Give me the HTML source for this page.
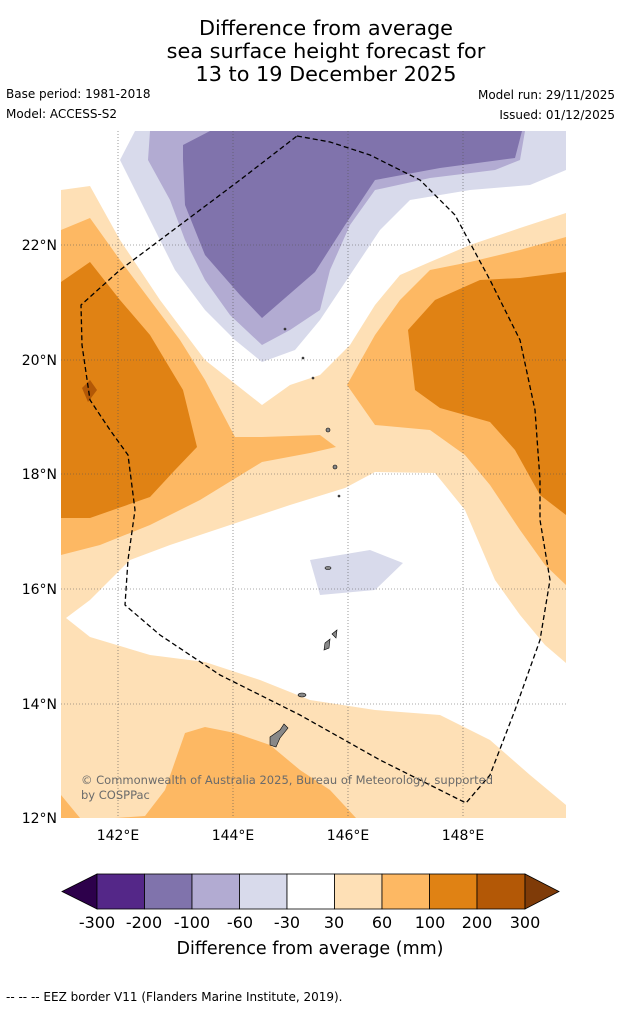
<!DOCTYPE html>
<html><head><meta charset="utf-8"><style>
body{margin:0;background:#fff;font-family:"Liberation Sans","DejaVu Sans",sans-serif;}
svg text{font-family:"DejaVu Sans","Liberation Sans",sans-serif;}
</style></head><body>
<svg width="621" height="1011" xmlns="http://www.w3.org/2000/svg">
<g font-size="20.8" text-anchor="middle" fill="#000">
<text x="326" y="35">Difference from average</text>
<text x="326" y="58">sea surface height forecast for</text>
<text x="326" y="81">13 to 19 December 2025</text>
</g>
<g font-size="12" fill="#000">
<text x="6" y="98">Base period: 1981-2018</text>
<text x="6" y="118">Model: ACCESS-S2</text>
<text x="615" y="99" text-anchor="end">Model run: 29/11/2025</text>
<text x="615" y="119" text-anchor="end">Issued: 01/12/2025</text>
</g>
<defs><clipPath id="mc"><rect x="61" y="131" width="505" height="687"/></clipPath></defs>
<g clip-path="url(#mc)">
<rect x="61" y="131" width="505" height="687" fill="#fee0b6"/>
<polygon fill="#ffffff" points="61,131 566,131 566,213 520,228 470,245 430,262 400,275 375,305 350,345 320,375 290,385 262,405 205,360 160,300 120,240 90,186 61,190"/>
<polygon fill="#ffffff" points="375,472 435,473 465,510 495,580 520,615 545,645 566,663 566,805 530,775 490,740 440,715 375,710 310,700 260,680 205,662 150,655 90,637 66,618 90,600 130,560 170,545 230,525 290,505 345,488"/>
<polygon fill="#fdb863" points="61,230 90,218 120,260 150,300 180,340 205,380 235,437 262,437 320,435 336,447 310,453 262,462 200,500 150,525 100,545 61,555"/>
<polygon fill="#e08214" points="61,282 90,262 120,300 150,335 183,390 197,447 175,470 150,497 90,518 61,518"/>
<polygon fill="#b35806" points="82,388 90,380 97,390 88,402"/>
<polygon fill="#fdb863" points="566,237 520,250 470,262 430,270 400,300 375,335 347,385 375,425 430,430 465,455 490,485 520,530 545,565 566,585"/>
<polygon fill="#e08214" points="566,272 520,278 480,280 435,300 408,330 415,390 440,408 490,422 515,450 540,495 566,515"/>
<polygon fill="#fdb863" points="115,818 145,816 165,790 185,733 205,727 235,733 270,745 300,770 330,790 356,818"/>
<polygon fill="#fdb863" points="61,795 80,818 61,818"/>
<polygon fill="#d8daeb" points="120,160 135,131 566,131 566,170 530,185 470,190 410,200 380,230 350,275 320,320 295,350 262,362 235,340 205,310 175,270 150,220"/>
<polygon fill="#b2abd2" points="148,160 150,131 525,131 520,160 495,170 430,178 375,190 350,225 330,270 320,310 290,330 262,345 230,315 205,280 185,240 170,200"/>
<polygon fill="#8073ac" points="183,145 210,131 522,131 515,158 440,168 375,180 345,225 315,272 262,318 240,295 205,255 185,205 183,160"/>
<polygon fill="#d8daeb" points="310,560 370,550 403,563 375,590 320,595"/>
<g stroke="#555" stroke-width="0.6" stroke-dasharray="1,2">
<line x1="118" y1="131" x2="118" y2="818"/><line x1="233" y1="131" x2="233" y2="818"/><line x1="348" y1="131" x2="348" y2="818"/><line x1="463" y1="131" x2="463" y2="818"/>
<line x1="61" y1="245" x2="566" y2="245"/><line x1="61" y1="360" x2="566" y2="360"/><line x1="61" y1="474" x2="566" y2="474"/><line x1="61" y1="589" x2="566" y2="589"/><line x1="61" y1="704" x2="566" y2="704"/>
</g>
<g fill="#888" stroke="#000" stroke-width="0.6">
<path d="M270,737 L280,730 L284,724 L288,728 L280,738 L276,747 L270,745 Z"/>
<ellipse cx="302" cy="695" rx="4" ry="2"/>
<path d="M325,643 L330,639 L329,648 L324,650 Z"/><path d="M332,634 L337,630 L336,638 Z"/>
<ellipse cx="328" cy="568" rx="3" ry="1.5"/><ellipse cx="335" cy="467" rx="2" ry="2"/><ellipse cx="328" cy="430" rx="2" ry="2"/>
<circle cx="339" cy="496" r="1"/><circle cx="313" cy="378" r="1"/><circle cx="303" cy="358" r="1"/><circle cx="285" cy="329" r="1"/>
</g>
<polyline fill="none" stroke="#000" stroke-width="1.3" stroke-dasharray="5,3" points="297,136 330,142 370,155 420,180 455,215 490,280 520,340 535,410 540,480 540,520 550,580 540,640 515,710 490,775 466,803 440,790 380,760 300,715 220,675 160,635 125,605 128,560 135,510 128,455 110,430 90,400 82,345 81,305 120,270 180,225 240,180 297,136"/>
<text x="81" y="784" font-size="11.5" fill="#6b6b6b" textLength="412">© Commonwealth of Australia 2025, Bureau of Meteorology, supported</text>
<text x="81" y="799" font-size="11.5" fill="#6b6b6b">by COSPPac</text>
</g>
<g font-size="14" fill="#000" text-anchor="end">
<text x="57" y="250">22°N</text><text x="57" y="365">20°N</text><text x="57" y="479">18°N</text><text x="57" y="594">16°N</text><text x="57" y="709">14°N</text><text x="57" y="823">12°N</text>
</g>
<g font-size="14" fill="#000" text-anchor="middle">
<text x="118" y="840">142°E</text><text x="233" y="840">144°E</text><text x="348" y="840">146°E</text><text x="463" y="840">148°E</text>
</g>
<g stroke="#000" stroke-width="0.8">
<polygon points="97,874 62,891.5 97,909" fill="#2d004b"/>
<rect x="97" y="874" width="47.5" height="35" fill="#542788"/>
<rect x="144.5" y="874" width="47.5" height="35" fill="#8073ac"/>
<rect x="192" y="874" width="47.5" height="35" fill="#b2abd2"/>
<rect x="239.5" y="874" width="47.5" height="35" fill="#d8daeb"/>
<rect x="287" y="874" width="47.5" height="35" fill="#ffffff"/>
<rect x="334.5" y="874" width="47.5" height="35" fill="#fee0b6"/>
<rect x="382" y="874" width="47.5" height="35" fill="#fdb863"/>
<rect x="429.5" y="874" width="47.5" height="35" fill="#e08214"/>
<rect x="477" y="874" width="48" height="35" fill="#b35806"/>
<polygon points="525,874 559,891.5 525,909" fill="#7f3b08"/>
</g>
<g font-size="16" fill="#000" text-anchor="middle">
<text x="97" y="928">-300</text><text x="144" y="928">-200</text><text x="192" y="928">-100</text><text x="240" y="928">-60</text><text x="287" y="928">-30</text><text x="334" y="928">30</text><text x="382" y="928">60</text><text x="430" y="928">100</text><text x="477" y="928">200</text><text x="525" y="928">300</text>
</g>
<text x="310" y="954" font-size="17.5" text-anchor="middle" fill="#000">Difference from average (mm)</text>
<text x="6" y="1001" font-size="12" fill="#000">--  --  -- EEZ border V11 (Flanders Marine Institute, 2019).</text>
</svg>
</body></html>
